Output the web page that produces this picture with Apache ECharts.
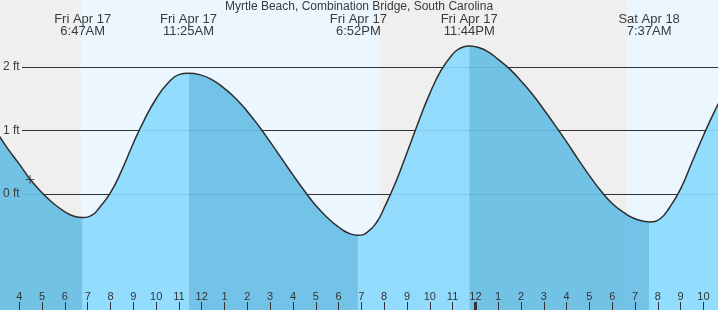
<!DOCTYPE html>
<html>
<head>
<meta charset="utf-8">
<script src="https://cdn.jsdelivr.net/npm/echarts@6/dist/echarts.min.js"></script>
<style>
  html, body { margin: 0; padding: 0; background: #fff; }
  #main { width: 718px; height: 310px; }
</style>
</head>
<body>
<div id="main"></div>
<script>
// tide samples (hours from Fri 00:00, feet)
var sampleHours = [3, 3.5, 4, 4.5, 5, 5.5, 6, 6.4, 7.2, 7.5, 8, 8.5, 9, 9.5, 10, 10.5, 11,
    11.9, 12.5, 13, 13.5, 14, 14.5, 15, 15.5, 16, 16.5, 17, 17.5, 18, 18.4,
    19.3, 19.7, 20, 20.5, 21, 21.5, 22, 22.5, 23, 23.3,
    24.2, 24.6, 25, 25.5, 26, 26.5, 27, 27.5, 28, 28.5, 29, 29.5, 30, 30.5, 31,
    32.1, 32.5, 33, 33.5, 34, 34.5, 35];
var sampleFeet = [0.98, 0.71, 0.47, 0.22, 0.02, -0.15, -0.28, -0.35, -0.33, -0.22, 0.02, 0.38, 0.80, 1.18, 1.50, 1.74, 1.88,
    1.88, 1.79, 1.66, 1.50, 1.30, 1.07, 0.82, 0.56, 0.30, 0.05, -0.18, -0.37, -0.52, -0.61,
    -0.59, -0.43, -0.22, 0.18, 0.65, 1.13, 1.58, 1.95, 2.20, 2.29,
    2.30, 2.23, 2.12, 1.97, 1.78, 1.57, 1.33, 1.08, 0.82, 0.55, 0.29, 0.05, -0.15, -0.29, -0.39,
    -0.39, -0.22, 0.08, 0.50, 0.92, 1.31, 1.65];

// high / low tides
var extremeHours = [6.78, 11.42, 18.87, 23.73, 31.62];
var extremeFeet = [-0.37, 1.90, -0.65, 2.33, -0.44];
var extremeLabels = ['Fri Apr 17\n6:47AM', 'Fri Apr 17\n11:25AM', 'Fri Apr 17\n6:52PM',
    'Fri Apr 17\n11:44PM', 'Sat Apr 18\n7:37AM'];

// night bands (sunset -> sunrise)
var nightStart = [3, 19.78];
var nightEnd = [6.71, 30.64];

var hourTicks = [4, 5, 6, 7, 8, 9, 10, 11, 12, 13, 14, 15, 16, 17, 18, 19, 20, 21, 22, 23,
    24, 25, 26, 27, 28, 29, 30, 31, 32, 33, 34];
var midnightTicks = [24];
var feetLabels = [0, 1, 2];

var nowHour = 4.47;
var nowFeet = 0.23;

var xMin = 3.153, xMax = 34.64;
var yMin = -1.827, yMax = 3.055;

// merge samples and extremes, then split into falling / rising pieces
var pts = [];
sampleHours.forEach(function (h, i) { pts.push([h, sampleFeet[i], false]); });
extremeHours.forEach(function (h, i) { pts.push([h, extremeFeet[i], true]); });
pts.sort(function (a, b) { return a[0] - b[0]; });

function risingAt(t) {
    // segment after a low is rising
    var k = -1;
    for (var i = 0; i < extremeHours.length; i++) {
        if (extremeHours[i] < t) k = i;
    }
    if (k < 0) return extremeFeet[0] > extremeFeet[1];
    return extremeFeet[k] < extremeFeet[k + 1 < extremeFeet.length ? k + 1 : k - 1];
}

var curveData = [], risingData = [], fallingData = [];
pts.forEach(function (p) {
    var r = risingAt(p[0]);
    curveData.push([p[0], p[1]]);
    risingData.push([p[0], (p[2] || r) ? p[1] : '-']);
    fallingData.push([p[0], (p[2] || !r) ? p[1] : '-']);
});

var nightAreas = nightStart.map(function (s, i) {
    return [{ xAxis: s }, { xAxis: nightEnd[i] }];
});

var SMOOTH = 0.5;

var chart = echarts.init(document.getElementById('main'));
chart.setOption({
    animation: false,
    backgroundColor: '#ebf6fe',
    textStyle: { fontFamily: 'Liberation Sans, Arial, sans-serif', color: '#333' },
    title: {
        text: 'Myrtle Beach, Combination Bridge, South Carolina',
        left: 'center',
        top: 1,
        padding: 0,
        textStyle: { fontSize: 12, fontWeight: 'normal', color: '#3a3a3a' }
    },
    grid: [
        { left: 0, right: 0, top: 0, bottom: 0 },
        { left: 22, right: 0, top: 0, bottom: 0 }
    ],
    xAxis: [{
        type: 'value', gridIndex: 0, min: xMin, max: xMax, position: 'bottom', z: 10,
        axisLine: { show: false, onZero: false },
        splitLine: { show: false },
        axisTick: { inside: true, length: 8, customValues: hourTicks, lineStyle: { color: '#333', width: 1 } },
        axisLabel: {
            inside: true, margin: 8, fontSize: 11, color: '#333', customValues: hourTicks,
            formatter: function (v) { var m = Math.round(v) % 12; return m === 0 ? '12' : String(m); }
        }
    }, {
        type: 'value', gridIndex: 0, min: xMin, max: xMax, position: 'bottom', z: 10,
        axisLine: { show: false, onZero: false },
        splitLine: { show: false },
        axisTick: { inside: true, length: 8, customValues: midnightTicks, lineStyle: { color: '#333', width: 3 } },
        axisLabel: { show: false }
    }, {
        type: 'value', gridIndex: 0, min: xMin, max: xMax, position: 'top', z: 10,
        axisLine: { show: false, onZero: false },
        splitLine: { show: false },
        axisTick: { show: false },
        axisLabel: {
            inside: true, margin: 13, fontSize: 13, lineHeight: 12, color: '#3a3a3a',
            customValues: extremeHours,
            formatter: function (v) {
                for (var i = 0; i < extremeHours.length; i++) {
                    if (Math.abs(extremeHours[i] - v) < 1e-6) return extremeLabels[i];
                }
                return '';
            }
        }
    }, {
        type: 'value', gridIndex: 1, min: 0, max: 1, show: false
    }],
    yAxis: [{
        type: 'value', gridIndex: 0, min: yMin, max: yMax, z: 10,
        axisLine: { show: false, onZero: false },
        axisTick: { show: false },
        splitLine: { show: false },
        axisLabel: {
            inside: true, margin: 3, fontSize: 12, color: '#3a3a3a', customValues: feetLabels,
            formatter: function (v) { return v + ' ft'; }
        }
    }, {
        type: 'value', gridIndex: 1, min: yMin, max: yMax, show: false
    }],
    series: [{
        type: 'line', xAxisIndex: 0, yAxisIndex: 0, data: [], silent: true,
        markArea: {
            silent: true, z: 0,
            itemStyle: { color: '#efefef' },
            data: nightAreas
        }
    }, {
        type: 'line', xAxisIndex: 3, yAxisIndex: 1, data: [], silent: true,
        markLine: {
            silent: true, z: 1, symbol: 'none',
            label: { show: false },
            lineStyle: { color: '#333', type: 'solid', width: 1 },
            data: feetLabels.map(function (v) { return { yAxis: v }; })
        }
    }, {
        name: 'falling', type: 'line', xAxisIndex: 0, yAxisIndex: 0, z: 2,
        data: fallingData, smooth: SMOOTH, symbol: 'none', connectNulls: false,
        lineStyle: { width: 0 },
        areaStyle: { color: '#67bee5', opacity: 0.92, origin: 'start' }
    }, {
        name: 'rising', type: 'line', xAxisIndex: 0, yAxisIndex: 0, z: 2,
        data: risingData, smooth: SMOOTH, symbol: 'none', connectNulls: false,
        lineStyle: { width: 0 },
        areaStyle: { color: '#8ad9fe', opacity: 0.92, origin: 'start' }
    }, {
        name: 'tide', type: 'line', xAxisIndex: 0, yAxisIndex: 0, z: 3,
        data: curveData, smooth: SMOOTH, symbol: 'none',
        lineStyle: { color: '#2e2e2e', width: 1.5 }
    }, {
        type: 'scatter', xAxisIndex: 0, yAxisIndex: 0, z: 4, silent: true,
        symbol: 'path://M0,4h9v1H0zM4,0h1v9H4z', symbolSize: 9,
        itemStyle: { color: '#333' },
        data: [[nowHour, nowFeet]]
    }]
});
</script>
</body>
</html>
